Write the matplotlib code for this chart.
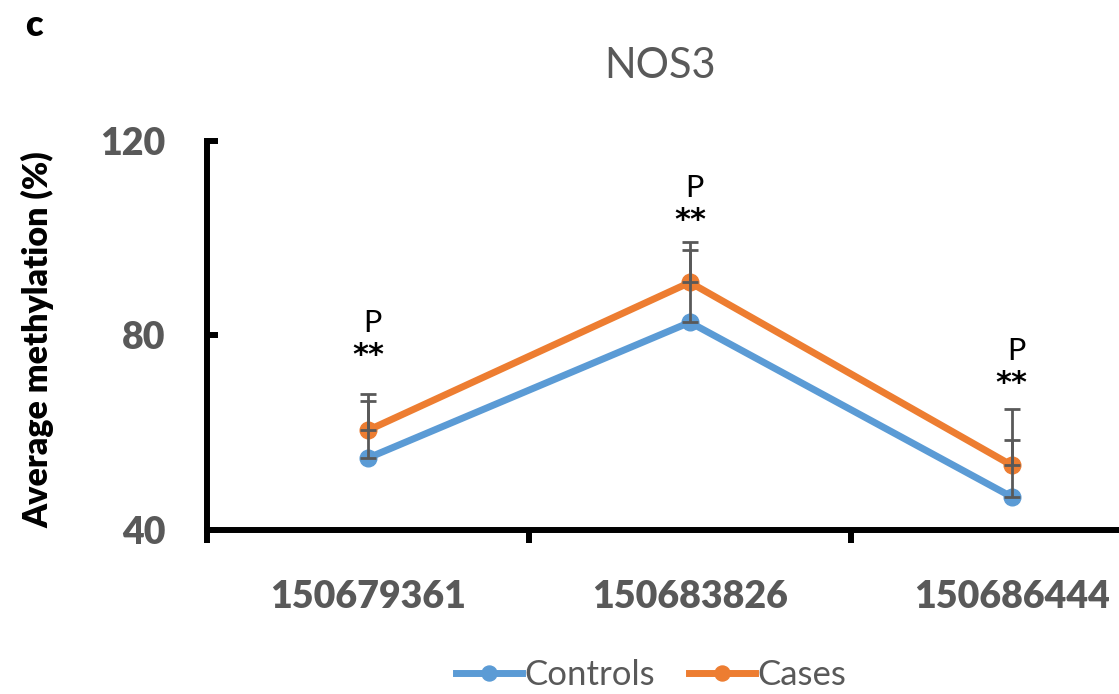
import matplotlib
matplotlib.use("Agg")
import matplotlib.pyplot as plt
import numpy as np

plt.rcParams["font.family"] = ["Lato", "DejaVu Sans"]

# CpG positions (categories) and group means / upper error
positions = ["150679361", "150683826", "150686444"]
controls = [54.8, 82.7, 46.8]
cases = [60.5, 90.9, 53.3]
controls_err = [11.7, 14.8, 11.7]
cases_err = [7.4, 8.4, 11.5]
# height of the "**" mark over each position
sig_y = [75.9, 103.7, 70.2]

BLUE = "#5B9BD5"
ORANGE = "#ED7D31"
GREY = "#595959"

fig = plt.figure(figsize=(11.19, 6.94), dpi=100)
ax = fig.add_axes([0.185, 0.2363, 0.863, 0.5607])

x = np.arange(len(positions))

# error bars (upper only), drawn over the lines
ax.errorbar(x, controls, yerr=[np.zeros(3), controls_err], fmt="none",
            ecolor=GREY, elinewidth=2, capsize=6, capthick=2, zorder=4)
ax.errorbar(x, cases, yerr=[np.zeros(3), cases_err], fmt="none",
            ecolor=GREY, elinewidth=2, capsize=6, capthick=2, zorder=4)

ax.plot(x, controls, color=BLUE, lw=5, marker="o", ms=12, label="Controls", zorder=3)
ax.plot(x, cases, color=ORANGE, lw=5, marker="o", ms=12, label="Cases", zorder=3)

# significance marks
for i in range(len(positions)):
    ax.text(x[i], sig_y[i], "**", ha="center", va="center",
            fontsize=22, color="black", family="DejaVu Sans", fontweight="bold")
    ax.text(x[i] + 0.015, sig_y[i] + 6.6, "P", ha="center", va="center",
            fontsize=22, color="black")

ax.set_xlim(-0.5, 2.5)
ax.set_ylim(40, 120)
ax.set_yticks([40, 80, 120])
ax.set_xticks(x)
ax.set_xticklabels(positions)
ax.set_xticks([-0.5, 0.5, 1.5, 2.5], minor=True)

for s in ["top", "right"]:
    ax.spines[s].set_visible(False)
for s in ["left", "bottom"]:
    ax.spines[s].set_linewidth(4.3)
    ax.spines[s].set_color("black")

ax.tick_params(axis="y", direction="in", length=8, width=4.3, pad=30,
               labelsize=27, labelcolor=GREY)
ax.tick_params(axis="x", which="major", length=0, pad=36,
               labelsize=27, labelcolor=GREY)
ax.tick_params(axis="x", which="minor", direction="out", length=9, width=4.3)
for lab in ax.get_xticklabels() + ax.get_yticklabels():
    lab.set_fontweight("heavy")

ax.set_ylabel("Average methylation (%)", fontsize=24.5, fontweight="heavy",
              color="black")
ax.yaxis.set_label_coords(-0.158, 0.49)

fig.text(0.59, 0.905, "NOS3", ha="center", va="center", fontsize=30, color=GREY)
fig.text(0.03, 0.963, "c", ha="center", va="center", fontsize=26,
         fontweight="heavy", color="black")

leg = fig.legend(loc="center", bbox_to_anchor=(0.582, 0.027), ncol=2,
                 frameon=False, fontsize=25, handlelength=1.9, handletextpad=0.05,
                 columnspacing=1.0, markerscale=0.9)
for t in leg.get_texts():
    t.set_color(GREY)

fig.savefig("out.png", dpi=100)
